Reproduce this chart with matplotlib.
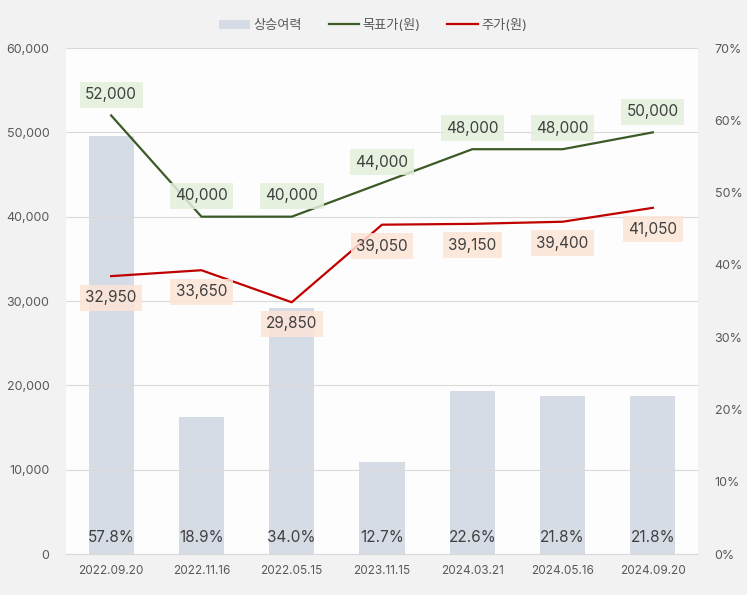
import numpy as np
import matplotlib.pyplot as plt
from matplotlib.ticker import FuncFormatter

plt.rcParams['font.family'] = ['Inter', 'Noto Sans CJK KR', 'DejaVu Sans']

# Data
dates = ["2022.09.20", "2022.11.16", "2022.05.15", "2023.11.15",
         "2024.03.21", "2024.05.16", "2024.09.20"]
upside = [57.8, 18.9, 34.0, 12.7, 22.6, 21.8, 21.8]
target_price = [52000, 40000, 40000, 44000, 48000, 48000, 50000]
stock_price = [32950, 33650, 29850, 39050, 39150, 39400, 41050]

bar_color = "#d6dce5"
green = "#3b5a26"
red = "#c00000"
tick_color = "#595959"
text_color = "#404040"

fig = plt.figure(figsize=(7.47, 5.95), dpi=100, facecolor="#f2f2f2")
ax = fig.add_axes([0.0884, 0.0689, 0.846, 0.8504])
ax2 = ax.twinx()

x = np.arange(len(dates))

# Bars on the right (percent) axis
bars = ax2.bar(x, upside, width=0.5, color=bar_color, zorder=1, label="상승여력")
ax2.set_ylim(0, 70)
ax2.set_yticks(np.arange(0, 71, 10))
ax2.yaxis.set_major_formatter(FuncFormatter(lambda v, p: f"{v:.0f}%"))
for xi, v in zip(x, upside):
    ax2.text(xi, 2.3, f"{v:.1f}%", ha="center", va="center",
             fontsize=11, color=text_color, zorder=5)

# Lines on the left (price) axis, drawn above bars; ax2 carries the background
ax.set_zorder(ax2.get_zorder() + 1)
ax.patch.set_visible(False)
ax2.patch.set_visible(True)
ax2.patch.set_facecolor("#fdfdfd")

l1, = ax.plot(x, target_price, color=green, lw=1.6, label="목표가(원)", zorder=3)
l2, = ax.plot(x, stock_price, color=red, lw=1.6, label="주가(원)", zorder=3)

for xi, v in zip(x, target_price):
    ax.annotate(f"{v:,}", (xi, v), xytext=(0, 15), textcoords="offset points",
                ha="center", va="center", fontsize=11, color=text_color,
                bbox=dict(boxstyle="square,pad=0.36", fc="#e2efda", ec="none", alpha=0.85),
                zorder=4)
for xi, v in zip(x, stock_price):
    ax.annotate(f"{v:,}", (xi, v), xytext=(0, -15.5), textcoords="offset points",
                ha="center", va="center", fontsize=11, color=text_color,
                bbox=dict(boxstyle="square,pad=0.36", fc="#fce4d6", ec="none", alpha=0.85),
                zorder=4)

ax.set_ylim(0, 60000)
ax.set_yticks(np.arange(0, 60001, 10000))
ax.yaxis.set_major_formatter(FuncFormatter(lambda v, p: f"{v:,.0f}"))
ax.set_xlim(-0.5, len(dates) - 0.5)
ax.set_xticks(x)
ax.set_xticklabels(dates)
ax.grid(axis="y", color="#d9d9d9", lw=0.8)
ax.set_axisbelow(True)

for a in (ax, ax2):
    for s in a.spines.values():
        s.set_visible(False)
    a.tick_params(length=0, colors=tick_color, labelsize=9)
ax.spines["bottom"].set_visible(True)
ax.spines["bottom"].set_color("#d9d9d9")
ax.tick_params(axis="x", pad=8, labelsize=8.5)
ax.tick_params(axis="y", pad=12)
ax2.tick_params(axis="y", pad=12)

fig.legend(handles=[bars, l1, l2], loc="center", bbox_to_anchor=(0.5, 0.957),
           ncol=3, frameon=False, fontsize=9.5, labelcolor=tick_color,
           handlelength=2.3, handletextpad=0.3, columnspacing=2.0)

fig.savefig("out.png", dpi=100, facecolor=fig.get_facecolor())
